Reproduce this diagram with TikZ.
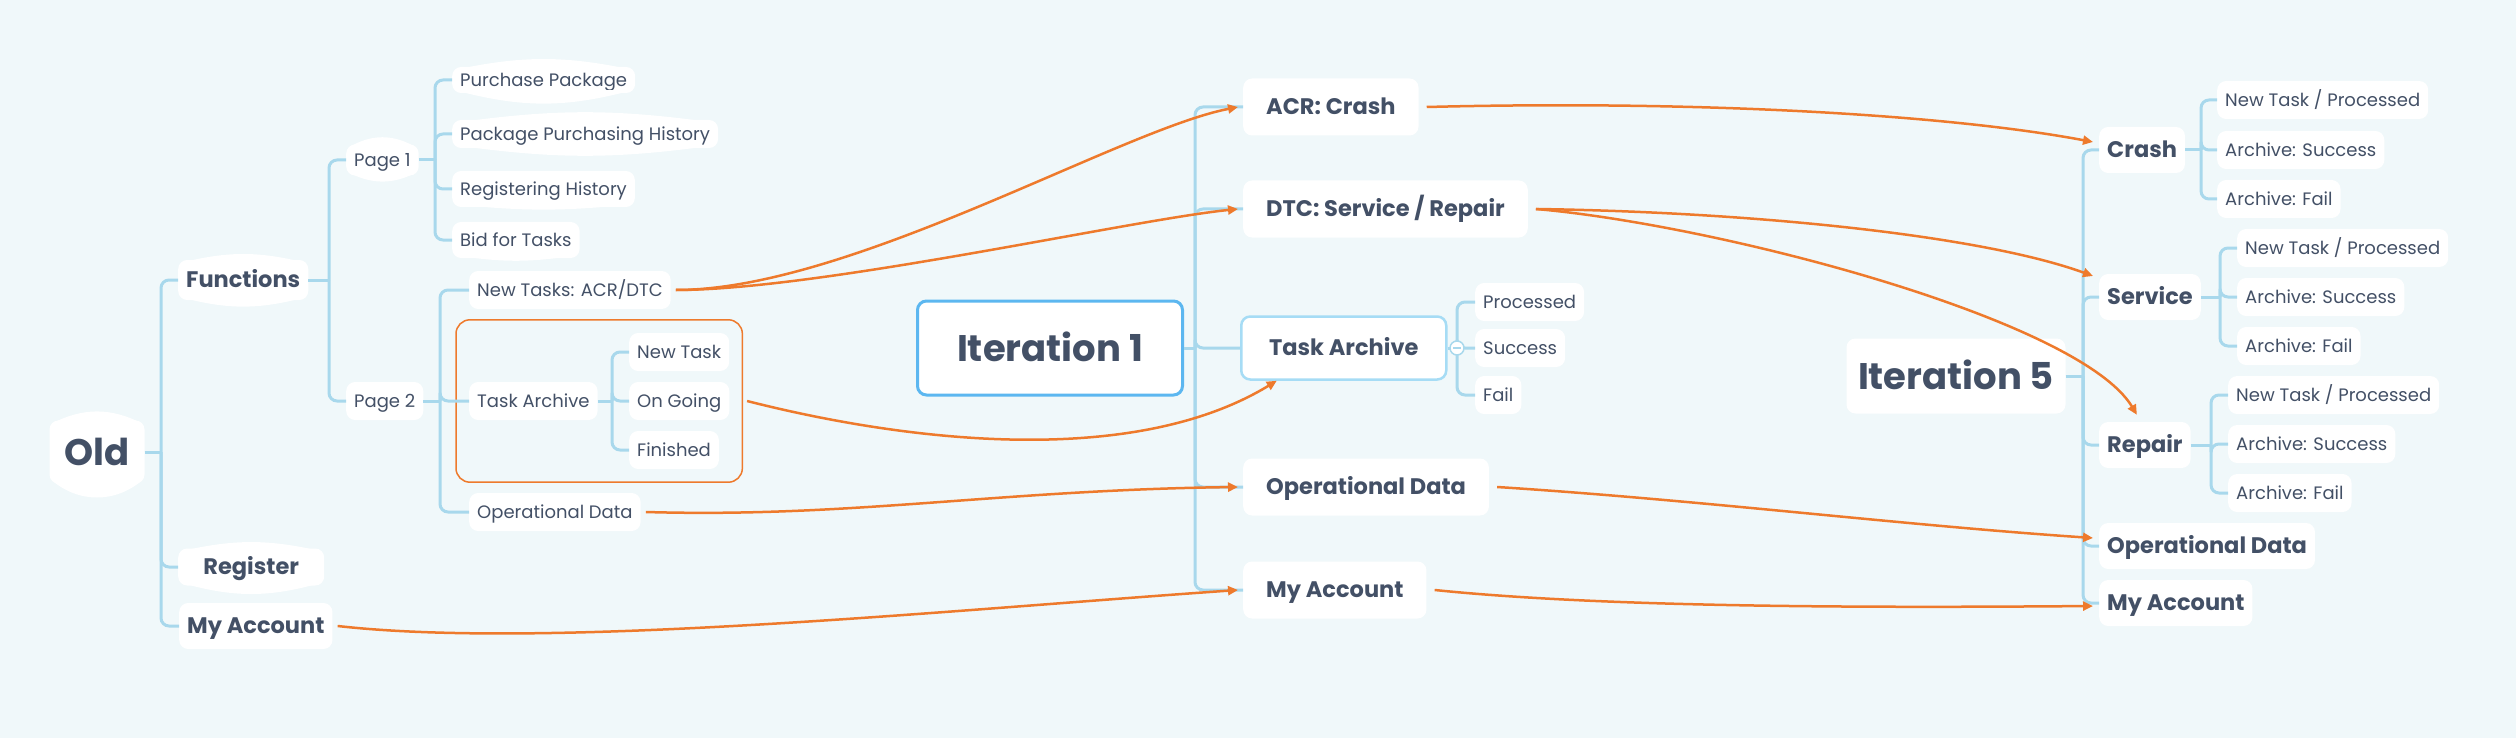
\documentclass[tikz,border=0pt]{standalone}
\usepackage{fontspec}
\setmainfont{Poppins}
\usetikzlibrary{arrows.meta,fit}
\definecolor{bgcol}{RGB}{240,248,250}
\definecolor{ink}{RGB}{67,80,102}
\definecolor{linecol}{RGB}{168,216,236}
\definecolor{relcol}{RGB}{238,122,44}
\definecolor{framecol}{RGB}{92,183,240}
\definecolor{framecol2}{RGB}{166,220,245}
\newcommand\nodebulge[3]{%
  \fill[white] ([xshift=3pt,yshift=-3pt]#1.north west) to[bend left=#2] ([xshift=-3pt,yshift=-3pt]#1.north east) -- cycle;
  \fill[white] ([xshift=3pt,yshift=3pt]#1.south west) to[bend right=#3] ([xshift=-3pt,yshift=3pt]#1.south east) -- cycle;}
\begin{document}
\begin{tikzpicture}[x=1pt,y=-1pt]
\tikzstyle{box}=[fill=white,rounded corners=9pt,text=ink,inner ysep=0pt,text depth=0pt]
\tikzstyle{leaf}=[box,anchor=west,font=\fontsize{18}{20}\selectfont,text height=12.6pt,minimum height=38pt,inner xsep=8pt]
\tikzstyle{topic}=[box,anchor=west,font=\bfseries\fontsize{22.5}{24}\selectfont,text height=15.8pt,minimum height=46pt,inner xsep=8pt]
\tikzstyle{midtopic}=[topic,minimum height=57pt,inner xsep=23pt]
\tikzstyle{root}=[box,font=\bfseries\fontsize{37}{40}\selectfont,text height=26pt]
\tikzstyle{branch}=[draw=linecol,line width=3pt,rounded corners=8pt]
\tikzstyle{rel}=[draw=relcol,line width=2.5pt,-{Triangle[length=10pt,width=9pt]}]
\tikzstyle{group}=[draw=relcol,line width=1.5pt,rounded corners=14pt,inner sep=13pt]
\useasboundingbox (0,0) rectangle (2516,738);
\fill[bgcol] (0,0) rectangle (2516,738);
% old version
\node[root,minimum width=95pt,minimum height=63pt] (old) at (97,452) {Old};
\node[topic,minimum height=40pt] (functions) at (178,280) {Functions};
\node[topic,minimum width=146pt,minimum height=37pt] (register) at (178,567) {Register};
\node[topic] (myacc1) at (179,626) {My Account};
\node[leaf,minimum height=31pt] (page1) at (346,160) {Page 1};
\node[leaf] (page2) at (346,401) {Page 2};
\node[leaf,minimum height=26pt] (pp) at (452,80) {Purchase Package};
\node[leaf,minimum height=28pt] (pph) at (452,134) {Package Purchasing History};
\node[leaf,minimum height=36pt] (rh) at (452,189) {Registering History};
\node[leaf,minimum height=36pt] (bid) at (452,240) {Bid for Tasks};
\node[leaf] (newtasks) at (469,290) {New Tasks: ACR/DTC};
\node[leaf] (ta1) at (469,401) {Task Archive};
\node[leaf] (newtask) at (629,352) {New Task};
\node[leaf] (ongoing) at (629,401) {On Going};
\node[leaf] (finished) at (629,450) {Finished};
\node[leaf] (opdata1) at (469,512) {Operational Data};
\node[group,fit=(ta1)(newtask)(finished)] (grp) {};
\nodebulge{old}{27}{40}
\nodebulge{functions}{14}{15}
\nodebulge{register}{13}{16}
\nodebulge{page1}{31}{27}
\nodebulge{pp}{12}{15}
\nodebulge{pph}{8}{8}
\nodebulge{rh}{0}{6}
\nodebulge{bid}{0}{9}
% iteration 1
\node[root,draw=framecol,line width=3pt,minimum width=265pt,minimum height=94pt] (it1) at (1050,348) {Iteration 1};
\node[midtopic] (acr) at (1243,107) {ACR: Crash};
\node[midtopic] (dtc) at (1243,209) {DTC: Service / Repair};
\node[midtopic,draw=framecol2,line width=2.5pt,minimum width=205pt,minimum height=63pt] (ta2) at (1240,348) {Task Archive};
\node[midtopic] (opdata2) at (1243,487) {Operational Data};
\node[midtopic] (myacc2) at (1243,590) {My Account};
\node[leaf] (processed) at (1475,302) {Processed};
\node[leaf] (success) at (1475,348) {Success};
\node[leaf] (fail) at (1475,395) {Fail};
% iteration 5
\node[root,minimum width=219pt,minimum height=75pt] (it5) at (1956,376) {Iteration 5};
\node[topic] (crash) at (2099,150) {Crash};
\node[topic] (service) at (2099,297) {Service};
\node[topic] (repair) at (2099,445) {Repair};
\node[topic] (opdata3) at (2099,546) {Operational Data};
\node[topic] (myacc3) at (2099,603) {My Account};
\node[leaf] (crash1) at (2217,100) {New Task / Processed};
\node[leaf] (crash2) at (2217,150) {Archive: Success};
\node[leaf] (crash3) at (2217,199) {Archive: Fail};
\node[leaf] (service1) at (2237,248) {New Task / Processed};
\node[leaf] (service2) at (2237,297) {Archive: Success};
\node[leaf] (service3) at (2237,346) {Archive: Fail};
\node[leaf] (repair1) at (2228,395) {New Task / Processed};
\node[leaf] (repair2) at (2228,444) {Archive: Success};
\node[leaf] (repair3) at (2228,493) {Archive: Fail};
% branches
\coordinate (oldbus) at (161,452);
\coordinate (funcbus) at (329,280);
\coordinate (p1bus) at (435,160);
\coordinate (p2bus) at (440,401);
\coordinate (ta1bus) at (612,401);
\coordinate (it1bus) at (1195,348);
\coordinate (ta2bus) at (1457,348);
\coordinate (it5bus) at (2083,376);
\coordinate (crashbus) at (2201,150);
\coordinate (servicebus) at (2220,297);
\coordinate (repairbus) at (2211,445);
\draw[branch] (old.east) -- (oldbus);
\draw[branch] (oldbus) |- (functions.west);
\draw[branch] (oldbus) |- (register.west);
\draw[branch] (oldbus) |- (myacc1.west);
\draw[branch] (functions.east) -- (funcbus);
\draw[branch] (funcbus) |- (page1.west);
\draw[branch] (funcbus) |- (page2.west);
\draw[branch] (page1.east) -- (p1bus);
\draw[branch] (p1bus) |- (pp.west);
\draw[branch] (p1bus) |- (pph.west);
\draw[branch] (p1bus) |- (rh.west);
\draw[branch] (p1bus) |- (bid.west);
\draw[branch] (page2.east) -- (p2bus);
\draw[branch] (p2bus) |- (newtasks.west);
\draw[branch] (p2bus) |- (ta1.west);
\draw[branch] (p2bus) |- (opdata1.west);
\draw[branch] (ta1.east) -- (ta1bus);
\draw[branch] (ta1bus) |- (newtask.west);
\draw[branch] (ta1bus) |- (ongoing.west);
\draw[branch] (ta1bus) |- (finished.west);
\draw[branch] (it1.east) -- (it1bus);
\draw[branch] (it1bus) |- (acr.west);
\draw[branch] (it1bus) |- (dtc.west);
\draw[branch] (it1bus) |- (ta2.west);
\draw[branch] (it1bus) |- (opdata2.west);
\draw[branch] (it1bus) |- (myacc2.west);
\draw[branch] (ta2.east) -- (ta2bus);
\draw[branch] (ta2bus) |- (processed.west);
\draw[branch] (ta2bus) |- (success.west);
\draw[branch] (ta2bus) |- (fail.west);
\draw[linecol,line width=1.5pt,fill=white] (ta2bus) circle (7pt);
\draw[linecol,line width=1.5pt] ([xshift=-4pt]ta2bus) -- ([xshift=4pt]ta2bus);
\draw[branch] (it5.east) -- (it5bus);
\draw[branch] (it5bus) |- (crash.west);
\draw[branch] (it5bus) |- (service.west);
\draw[branch] (it5bus) |- (repair.west);
\draw[branch] (it5bus) |- (opdata3.west);
\draw[branch] (it5bus) |- (myacc3.west);
\draw[branch] (crash.east) -- (crashbus);
\draw[branch] (crashbus) |- (crash1.west);
\draw[branch] (crashbus) |- (crash2.west);
\draw[branch] (crashbus) |- (crash3.west);
\draw[branch] (service.east) -- (servicebus);
\draw[branch] (servicebus) |- (service1.west);
\draw[branch] (servicebus) |- (service2.west);
\draw[branch] (servicebus) |- (service3.west);
\draw[branch] (repair.east) -- (repairbus);
\draw[branch] (repairbus) |- (repair1.west);
\draw[branch] (repairbus) |- (repair2.west);
\draw[branch] (repairbus) |- (repair3.west);
% relations
\draw[rel] ([xshift=5pt]newtasks.east) .. controls (850,290) and (1120,130) .. ([xshift=-5pt]acr.west);
\draw[rel] ([xshift=5pt]newtasks.east) .. controls (820,290) and (1130,220) .. ([xshift=-5pt]dtc.west);
\draw[rel] ([xshift=4pt]grp.east) .. controls (900,440) and (1130,470) .. ([xshift=-67pt]ta2.south);
\draw[rel] ([xshift=5pt]opdata1.east) .. controls (850,518) and (1000,490) .. ([xshift=-5pt]opdata2.west);
\draw[rel] ([xshift=5pt]myacc1.east) .. controls (550,650) and (950,610) .. ([xshift=-5pt]myacc2.west);
\draw[rel] ([xshift=8pt]acr.east) .. controls (1700,100) and (1950,115) .. ([xshift=-6pt,yshift=8pt]crash.west);
\draw[rel] ([xshift=8pt]dtc.east) .. controls (1750,212) and (1980,235) .. ([xshift=-6pt,yshift=21pt]service.west);
\draw[rel] ([xshift=8pt]dtc.east) .. controls (1720,225) and (2080,320) .. ([xshift=-8pt,yshift=7pt]repair.north);
\draw[rel] ([xshift=8pt]opdata2.east) .. controls (1700,500) and (1900,525) .. ([xshift=-6pt,yshift=8pt]opdata3.west);
\draw[rel] ([xshift=8pt]myacc2.east) .. controls (1600,607) and (1850,608) .. ([xshift=-6pt,yshift=-3pt]myacc3.west);
\end{tikzpicture}
\end{document}
